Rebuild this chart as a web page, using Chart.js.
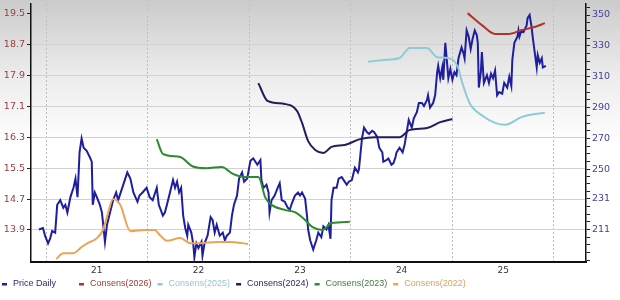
<!DOCTYPE html>
<html>
<head>
<meta charset="utf-8">
<script src="https://cdn.jsdelivr.net/npm/chart.js@4.4.1/dist/chart.umd.min.js"></script>
<style>
  html, body { margin: 0; padding: 0; background: #fff; }
  #grafico { display: block; }
</style>
</head>
<body>
<canvas id="grafico" width="620" height="300"></canvas>
<script>
// rotulos dos eixos
var yearLabels = ['21', '22', '23', '24', '25'];
var yearTicks = [2021, 2022, 2023, 2024, 2025, 2026];
var leftTicks = [13.9, 14.7, 15.5, 16.3, 17.1, 17.9, 18.7, 19.5];
var rightTicks = [211, 231, 250, 270, 290, 310, 330, 350];

// preco diario (eixo direito)
var priceYears = [
  2020.93, 2020.97, 2020.99,
  2021.02, 2021.04, 2021.06, 2021.09, 2021.11, 2021.14, 2021.17, 2021.19, 2021.21, 2021.24,
  2021.27, 2021.29, 2021.31, 2021.33, 2021.35, 2021.37, 2021.40, 2021.43, 2021.45, 2021.46,
  2021.48, 2021.50, 2021.53, 2021.55, 2021.56, 2021.58, 2021.60, 2021.63, 2021.66, 2021.69,
  2021.71, 2021.75, 2021.78, 2021.80, 2021.83, 2021.86, 2021.88, 2021.90, 2021.92, 2021.95, 2021.99,
  2022.02, 2022.05, 2022.09, 2022.11, 2022.15, 2022.17, 2022.19, 2022.22, 2022.25, 2022.27,
  2022.29, 2022.31, 2022.33, 2022.35, 2022.37, 2022.39, 2022.40, 2022.43, 2022.45, 2022.46,
  2022.48, 2022.50, 2022.53, 2022.54, 2022.56, 2022.59, 2022.62, 2022.64, 2022.66, 2022.68,
  2022.71, 2022.74, 2022.76, 2022.78, 2022.81, 2022.83, 2022.85, 2022.88, 2022.90, 2022.93, 2022.95, 2022.98,
  2023.01, 2023.02, 2023.04, 2023.08, 2023.11, 2023.12, 2023.14, 2023.17, 2023.19, 2023.20,
  2023.22, 2023.25, 2023.28, 2023.30, 2023.32, 2023.35, 2023.38, 2023.40, 2023.42, 2023.45,
  2023.48, 2023.50, 2023.52, 2023.55, 2023.57, 2023.58, 2023.60, 2023.62, 2023.63, 2023.66,
  2023.68, 2023.71, 2023.73, 2023.76, 2023.78, 2023.80, 2023.81, 2023.83, 2023.86, 2023.88,
  2023.91, 2023.93, 2023.96, 2023.98,
  2024.01, 2024.04, 2024.07, 2024.08, 2024.11, 2024.13, 2024.16, 2024.18, 2024.21, 2024.23,
  2024.26, 2024.28, 2024.31, 2024.32, 2024.35, 2024.37, 2024.40, 2024.42, 2024.44, 2024.45,
  2024.48, 2024.51, 2024.53, 2024.55, 2024.57, 2024.60, 2024.62, 2024.65, 2024.67, 2024.70,
  2024.72, 2024.75, 2024.76, 2024.78, 2024.81, 2024.83, 2024.85, 2024.86, 2024.88, 2024.90,
  2024.91, 2024.93, 2024.95, 2024.96, 2024.98,
  2025.00, 2025.02, 2025.04, 2025.06, 2025.09, 2025.11, 2025.12, 2025.14, 2025.16, 2025.18,
  2025.20, 2025.22, 2025.24, 2025.25, 2025.26, 2025.28, 2025.29, 2025.31, 2025.34, 2025.36,
  2025.38, 2025.40, 2025.42, 2025.44, 2025.46, 2025.49, 2025.51, 2025.54, 2025.56, 2025.58,
  2025.59, 2025.61, 2025.64, 2025.65, 2025.66, 2025.68, 2025.70, 2025.73, 2025.74, 2025.76,
  2025.78, 2025.79, 2025.81, 2025.83, 2025.84, 2025.86, 2025.88, 2025.89, 2025.92
];
var prices = [
  211, 212, 207,
  202, 205, 210, 209, 227, 230, 225, 227, 222, 232,
  238, 244, 232, 261, 270, 264, 262, 258, 255, 227,
  235, 232, 227, 222, 216, 203, 214, 222, 230, 235,
  230, 238, 244, 248, 244, 235, 232, 229, 233, 235, 238,
  232, 230, 238, 227, 220, 222, 227, 235, 243, 238,
  242, 235, 238, 220, 212, 207, 214, 209, 201, 193,
  202, 199, 203, 194, 202, 207, 219, 217, 209, 214,
  207, 209, 204, 207, 209, 220, 227, 233, 244, 248, 242, 244,
  255, 256, 257, 253, 256, 243, 238, 240, 235, 222,
  230, 233, 238, 241, 230, 229, 225, 224, 228, 233,
  235, 233, 235, 231, 219, 211, 204, 200, 198, 204,
  209, 206, 213, 211, 214, 205, 230, 238, 238, 244,
  245, 243, 240, 242,
  243, 251, 248, 250, 270, 277, 274, 273, 275, 274,
  271, 264, 261, 255, 256, 257, 253, 254, 258, 261,
  264, 261, 266, 274, 282, 277, 283, 287, 293, 293,
  291, 295, 298, 290, 293, 298, 313, 317, 309, 316,
  308, 332, 317, 309, 315,
  308, 313, 311, 322, 329, 325, 322, 340, 336, 328,
  335, 340, 337, 332, 303, 313, 326, 306, 311, 306,
  312, 309, 314, 298, 300, 299, 306, 303, 310, 304,
  321, 332, 336, 340, 336, 340, 339, 343, 348, 350,
  342, 336, 326, 316, 324, 319, 322, 316, 317
];

// consensos (eixo esquerdo)
var c2026Years = [2025.15, 2025.29, 2025.42, 2025.55, 2025.68, 2025.81, 2025.91];
var c2026 = [19.51, 19.20, 18.97, 18.97, 19.07, 19.15, 19.25];

var c2025Years = [2024.17, 2024.32, 2024.48, 2024.58, 2024.75, 2024.85, 2024.95, 2025.05,
  2025.10, 2025.17, 2025.30, 2025.42, 2025.52, 2025.68, 2025.81, 2025.91];
var c2025 = [18.25, 18.30, 18.35, 18.61, 18.61, 18.37, 18.35, 18.14,
  17.68, 17.18, 16.85, 16.67, 16.62, 16.82, 16.90, 16.93];

var c2024Years = [2023.09, 2023.18, 2023.35, 2023.47, 2023.52, 2023.58, 2023.65, 2023.73,
  2023.81, 2023.94, 2024.09, 2024.24, 2024.48, 2024.58, 2024.75, 2024.88, 2025.00];
var c2024 = [17.70, 17.24, 17.16, 16.98, 16.67, 16.20, 15.97, 15.89,
  16.05, 16.10, 16.25, 16.30, 16.30, 16.49, 16.54, 16.69, 16.77];

var c2023Years = [2022.09, 2022.15, 2022.32, 2022.44, 2022.58, 2022.73, 2022.84, 2022.96, 2023.09,
  2023.16, 2023.22, 2023.35, 2023.45, 2023.55, 2023.62, 2023.72, 2023.81, 2023.99];
var c2023 = [16.25, 15.87, 15.79, 15.55, 15.50, 15.53, 15.35, 15.27, 15.27,
  14.73, 14.55, 14.42, 14.36, 14.16, 13.98, 13.90, 14.08, 14.11];

var c2022Years = [2021.10, 2021.17, 2021.27, 2021.35, 2021.41, 2021.50, 2021.56, 2021.61, 2021.66,
  2021.73, 2021.83, 2021.97, 2022.07, 2022.12, 2022.19, 2022.32, 2022.42, 2022.52, 2022.68, 2022.81, 2022.99];
var c2022 = [13.15, 13.30, 13.30, 13.46, 13.56, 13.69, 13.90, 14.34, 14.70,
  14.55, 13.87, 13.90, 13.90, 13.77, 13.62, 13.69, 13.56, 13.56, 13.59, 13.59, 13.54];


function pares(xs, ys) {
  var pts = [];
  for (var i = 0; i < Math.min(xs.length, ys.length); i++) {
    pts.push({ x: xs[i], y: ys[i] });
  }
  return pts;
}

function consenso(label, xs, ys, cor, corTexto) {
  return {
    label: label,
    data: pares(xs, ys),
    yAxisID: 'yL',
    borderColor: cor,
    backgroundColor: cor,
    textColor: corTexto,
    borderWidth: 2,
    pointRadius: 0,
    tension: 0.4,
    cubicInterpolationMode: 'monotone',
    order: 0
  };
}

// fundo cinza em degrade
var fundo = {
  id: 'fundo',
  beforeDraw: function(chart) {
    var ctx = chart.ctx;
    var g = ctx.createLinearGradient(0, 0, 0, 145);
    g.addColorStop(0, '#cbcbcb');
    g.addColorStop(0.5, '#ebebeb');
    g.addColorStop(1, '#ffffff');
    ctx.save();
    ctx.fillStyle = g;
    ctx.fillRect(0, 0, chart.width, chart.height);
    ctx.restore();
  }
};

// legenda desenhada a mao (colunas fixas)
var legenda = {
  id: 'legenda',
  afterDraw: function(chart) {
    var ctx = chart.ctx;
    var x = 2, y = 284;
    ctx.save();
    ctx.font = '9px "Liberation Sans", Arial, sans-serif';
    ctx.textBaseline = 'middle';
    ctx.textAlign = 'left';
    chart.data.datasets.forEach(function(ds) {
      ctx.fillStyle = ds.borderColor;
      ctx.fillRect(x, y - 1, 5, 2.5);
      ctx.fillStyle = ds.textColor;
      ctx.fillText(ds.label, x + 11, y);
      var w = ctx.measureText(ds.label).width;
      x += Math.max(77, 11 + w + 6);
    });
    ctx.restore();
  }
};

var minorRight = [];
for (var i = 0; i < rightTicks.length - 1; i++) {
  for (var k = 1; k < 4; k++) {
    minorRight.push(rightTicks[i] + (rightTicks[i + 1] - rightTicks[i]) * k / 4);
  }
}
minorRight.push(206, 201, 196, 191, 355);

var contexto = document.getElementById('grafico').getContext('2d');

var grafico = new Chart(contexto, {
  type: 'line',
  data: {
    datasets: [
      {
        label: 'Price Daily',
        data: pares(priceYears, prices),
        yAxisID: 'yR',
        borderColor: '#1e1e9e',
        backgroundColor: '#1e1e9e',
        textColor: '#2a2a7c',
        borderWidth: 2,
        pointRadius: 0,
        tension: 0,
        order: 1
      },
      consenso('Consens(2026)', c2026Years, c2026, '#b0322c', '#a23c36'),
      consenso('Consens(2025)', c2025Years, c2025, '#8ecbd7', '#9ac6d1'),
      consenso('Consens(2024)', c2024Years, c2024, '#1f1f5c', '#2a2a62'),
      consenso('Consens(2023)', c2023Years, c2023, '#2f8a2f', '#3d7d3d'),
      consenso('Consens(2022)', c2022Years, c2022, '#eba455', '#d8a25e')
    ]
  },
  options: {
    responsive: false,
    animation: false,
    layout: { padding: { top: 4, left: 0, right: 0, bottom: 0 } },
    plugins: {
      legend: { display: false },
      tooltip: { enabled: false }
    },
    scales: {
      x: {
        type: 'linear',
        position: 'bottom',
        min: 2020.852,
        max: 2026.315,
        afterBuildTicks: function(s) {
          s.ticks = yearTicks.map(function(v) { return { value: v }; });
        },
        afterFit: function(s) { s.height = 38; s.paddingLeft = 0; s.paddingRight = 0; },
        grid: { color: '#bdbdbd', lineWidth: 1, drawTicks: false },
        border: { color: '#111', width: 2, dash: [2, 2] },
        ticks: {
          autoSkip: false,
          maxRotation: 0,
          padding: 3,
          labelOffset: 50.8,
          color: '#333',
          font: { family: 'DejaVu Sans', size: 9 },
          callback: function(v) {
            var idx = yearTicks.indexOf(v);
            return idx >= 0 && idx < yearLabels.length ? yearLabels[idx] : '';
          }
        }
      },
      yL: {
        type: 'linear',
        position: 'left',
        min: 13.072,
        max: 19.746,
        afterBuildTicks: function(s) {
          s.ticks = leftTicks.map(function(v) { return { value: v }; });
        },
        afterFit: function(s) { s.width = 31; s.paddingTop = 0; s.paddingBottom = 0; },
        grid: { color: '#d2d2d2', lineWidth: 1, tickLength: 4, tickColor: '#222' },
        border: { color: '#111', width: 1.5 },
        ticks: {
          autoSkip: false,
          padding: 2,
          color: '#9c3d3d',
          font: { family: 'DejaVu Sans', size: 9.5 },
          callback: function(v) { return v.toFixed(1); }
        }
      },
      yR: {
        type: 'linear',
        position: 'right',
        min: 189.94,
        max: 357.13,
        afterBuildTicks: function(s) {
          s.ticks = rightTicks.concat(minorRight).sort(function(a, b) { return a - b; })
            .map(function(v) { return { value: v }; });
        },
        afterFit: function(s) { s.width = 34; s.paddingTop = 0; s.paddingBottom = 0; },
        grid: { drawOnChartArea: false, tickLength: 4, tickColor: '#222' },
        border: { color: '#111', width: 1.5 },
        ticks: {
          autoSkip: false,
          padding: 2,
          color: '#42429c',
          font: { family: 'DejaVu Sans', size: 9.5 },
          callback: function(v) { return rightTicks.indexOf(v) >= 0 ? String(v) : ''; }
        }
      }
    }
  },
  plugins: [fundo, legenda]
});
</script>
</body>
</html>
